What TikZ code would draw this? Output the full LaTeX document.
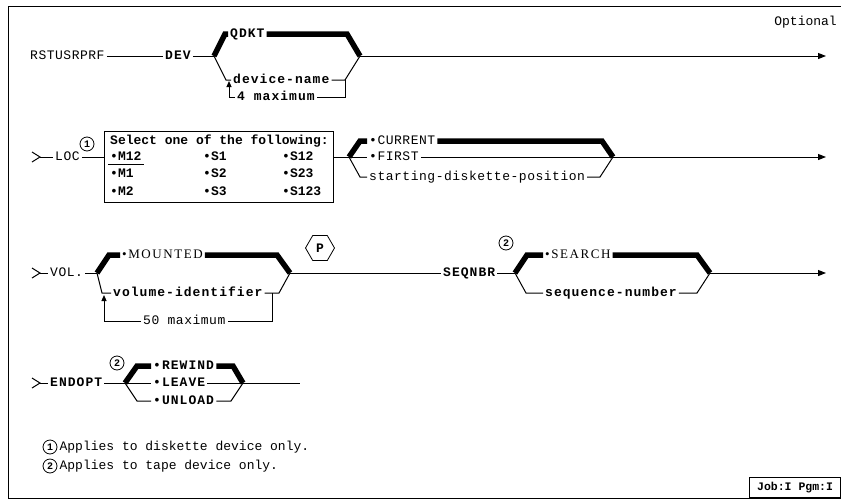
\documentclass[tikz,border=0pt]{standalone}
\usepackage{fontspec}
\setmainfont{Liberation Mono}
\newfontfamily\synfont[LetterSpace=4]{Liberation Mono}
\newfontfamily\kwfont[LetterSpace=8]{Liberation Mono}
\newfontfamily\serifsp[LetterSpace=12]{Liberation Serif}
\usetikzlibrary{arrows.meta,shapes.geometric}

\tikzset{
  lbl/.style={anchor=west, inner xsep=2pt, inner ysep=0pt, text height=7.4pt, text depth=0pt,
    font=\fontsize{13}{13}\selectfont\synfont},
  kw/.style={lbl, font=\fontsize{13}{13}\selectfont\kwfont\bfseries},
  boxtxt/.style={lbl, font=\fontsize{13}{13}\selectfont\bfseries},
  plaintxt/.style={lbl, font=\fontsize{13}{13}\selectfont},
  serifkw/.style={lbl, font=\fontsize{13}{13}\selectfont\serifsp},
  rail/.style={line width=1pt},
  dflt/.style={line width=5.5pt, line cap=butt, line join=miter},
  endarrow/.style={rail, -{Triangle[length=8pt,width=6pt]}},
  uparrow/.style={rail, -{Triangle[length=6pt,width=5pt]}},
  note/.style={circle, draw, line width=0.8pt, inner sep=0pt, minimum size=14pt,
    font=\fontsize{10}{10}\selectfont\bfseries},
  hexa/.style={regular polygon, regular polygon sides=6, draw, line width=0.8pt,
    minimum size=29pt, inner sep=0pt, font=\fontsize{13}{13}\selectfont\bfseries}
}

\begin{document}
\begin{tikzpicture}[x=1pt, y=-1pt]
  \useasboundingbox (0,0) rectangle (841,501);
  % frame
  \draw[line width=1pt] (841,6) -- (8,6) -- (8,498) -- (841,498);
  \node[plaintxt, anchor=east] (opt) at (839,22) {Optional};
  \node[draw, line width=0.9pt, anchor=south east, minimum width=91pt, minimum height=20pt,
    inner sep=1pt, font=\fontsize{11.5}{11.5}\selectfont\bfseries] (job) at (841,498) {Job:I Pgm:I};

  % RSTUSRPRF DEV
  \node[lbl] (cmd) at (28,56) {RSTUSRPRF};
  \node[kw] (dev) at (163,56) {DEV};
  \coordinate (f1) at (214,56);
  \coordinate (m1) at (360,56);
  \draw[rail] (cmd) -- (dev);
  \draw[rail] (dev) -- (f1);
  \node[kw] (qdkt) at (228,34) {QDKT};
  \draw[dflt] (f1) -- (225,34) -- (qdkt.west);
  \draw[dflt] (qdkt.east) -- (347,34) -- (m1);
  \node[kw] (dname) at (231,80) {device-name};
  \draw[rail] (f1) -- (226,80) -- (dname.west);
  \draw[rail] (dname.east) -- (345,80) -- (m1);
  \node[kw] (max4) at (235,97) {4 maximum};
  \draw[rail] (345,80) -- (345,97) -- (max4.east);
  \draw[uparrow] (max4.west) -- (229,97) -- (229,81);
  \draw[endarrow] (m1) -- (826,56);

  % LOC
  \coordinate (s2) at (40,157);
  \draw[rail] (32,152) -- (s2) -- (32,162);
  \node[lbl] (loc) at (53,157) {LOC};
  \draw[rail] (s2) -- (loc);
  \node[note] (n1) at (87,144) {1};
  \node[draw, line width=0.9pt, anchor=north west, minimum width=229pt, minimum height=71pt] (sel) at (104,131) {};
  \draw[rail] (loc.east) -- (loc.east -| sel.west);
  \node[boxtxt] (selhead) at (108,141) {Select one of the following:};
  \node[boxtxt] (m12) at (108,157) {•M12};
  \node[boxtxt] (m1b) at (108,174) {•M1};
  \node[boxtxt] (m2b) at (108,192) {•M2};
  \node[boxtxt] (s1) at (201,157) {•S1};
  \node[boxtxt] (s2b) at (201,174) {•S2};
  \node[boxtxt] (s3) at (201,192) {•S3};
  \node[boxtxt] (s12) at (280,157) {•S12};
  \node[boxtxt] (s23) at (280,174) {•S23};
  \node[boxtxt] (s123) at (280,192) {•S123};
  \draw[rail] ([yshift=-4pt]m12.south west) -- ([yshift=-4pt]m12.south east);
  \coordinate (f2) at (349,157);
  \coordinate (m2) at (613,157);
  \draw[rail] (f2 -| sel.east) -- (f2);
  \node[lbl] (cur) at (367,141) {•CURRENT};
  \draw[dflt] (f2) -- (360,141) -- (cur.west);
  \draw[dflt] (cur.east) -- (602,141) -- (m2);
  \node[lbl] (first) at (367,157) {•FIRST};
  \draw[rail] (f2) -- (first);
  \draw[rail] (first) -- (m2);
  \node[lbl] (start) at (367,177) {starting-diskette-position};
  \draw[rail] (f2) -- (360,177) -- (start.west);
  \draw[rail] (start.east) -- (600,177) -- (m2);
  \draw[endarrow] (m2) -- (826,157);

  % VOL
  \coordinate (s3) at (40,273);
  \draw[rail] (32,268) -- (s3) -- (32,278);
  \node[lbl] (vol) at (48,273) {VOL.};
  \coordinate (f3) at (97,273);
  \coordinate (m3) at (290,273);
  \draw[rail] (s3) -- (vol);
  \draw[rail] (vol) -- (f3);
  \node[serifkw] (mnt) at (120,255) {•MOUNTED};
  \draw[dflt] (f3) -- (109,255) -- (mnt.west);
  \draw[dflt] (mnt.east) -- (277,255) -- (m3);
  \node[kw] (volid) at (111,293) {volume-identifier};
  \draw[rail] (f3) -- (102,293) -- (volid.west);
  \draw[rail] (volid.east) -- (279,293) -- (m3);
  \node[lbl] (max50) at (141,321) {50 maximum};
  \draw[rail] (272,293) -- (272,321) -- (max50.east);
  \draw[uparrow] (max50.west) -- (104,321) -- (104,295);
  \node[hexa] (pmark) at (320,248) {P};
  \node[kw] (seq) at (441,273) {SEQNBR};
  \draw[rail] (m3) -- (seq);
  \coordinate (f4) at (515,273);
  \coordinate (m4) at (710,273);
  \draw[rail] (seq) -- (f4);
  \node[note] (n2a) at (506,243) {2};
  \node[serifkw] (srch) at (543,255) {•SEARCH};
  \draw[dflt] (f4) -- (527,255) -- (srch.west);
  \draw[dflt] (srch.east) -- (697,255) -- (m4);
  \node[kw] (seqnum) at (543,293) {sequence-number};
  \draw[rail] (f4) -- (526,293) -- (seqnum.west);
  \draw[rail] (seqnum.east) -- (697,293) -- (m4);
  \draw[endarrow] (m4) -- (826,273);

  % ENDOPT
  \coordinate (s4) at (40,383);
  \draw[rail] (32,378) -- (s4) -- (32,388);
  \node[kw] (endopt) at (48,383) {ENDOPT};
  \coordinate (f5) at (125,383);
  \coordinate (m5) at (243,383);
  \coordinate (e5) at (300,383);
  \draw[rail] (s4) -- (endopt);
  \draw[rail] (endopt) -- (f5);
  \node[note] (n2b) at (117,363) {2};
  \node[kw] (rew) at (151,366) {•REWIND};
  \draw[dflt] (f5) -- (137,366) -- (rew.west);
  \draw[dflt] (rew.east) -- (233,366) -- (m5);
  \node[kw] (leave) at (151,383) {•LEAVE};
  \draw[rail] (f5) -- (leave);
  \draw[rail] (leave) -- (m5);
  \node[kw] (unld) at (151,401) {•UNLOAD};
  \draw[rail] (f5) -- (137,401) -- (unld.west);
  \draw[rail] (unld.east) -- (231,401) -- (m5);
  \draw[rail] (m5) -- (e5);

  % footnotes
  \node[note] (fn1) at (50,447) {1};
  \node[plaintxt] (fn1txt) at (fn1.east) {Applies to diskette device only.};
  \node[note] (fn2) at (50,466) {2};
  \node[plaintxt] (fn2txt) at (fn2.east) {Applies to tape device only.};
\end{tikzpicture}
\end{document}
